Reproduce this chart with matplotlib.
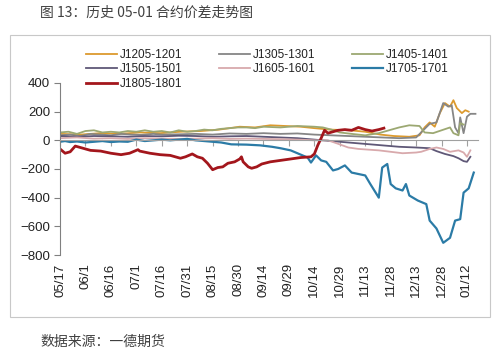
import matplotlib
matplotlib.use("Agg")
import matplotlib.pyplot as plt
from matplotlib.patches import Rectangle

plt.rcParams['font.family'] = ['Liberation Sans', 'Noto Sans CJK SC', 'DejaVu Sans']

# ---- data (x = days since 05/17, y = spread) ----
tick_days = [0, 15, 30, 45, 60, 75, 90, 105, 120, 135, 150, 165, 180, 195, 210, 225, 240]
tick_labels = ["05/17", "06/1", "06/16", "07/1", "07/16", "07/31", "08/15", "08/30",
               "09/14", "09/29", "10/14", "10/29", "11/13", "11/28", "12/13", "12/28", "01/12"]

j1205_x = [0, 12, 24, 35, 47, 59, 71, 83, 94, 106, 115, 124, 133, 142, 150, 159, 171, 180, 189,
           197, 206, 212, 215, 218, 221, 224, 227, 230, 232, 234, 237, 239, 241]
j1205_y = [45, 40, 50, 45, 55, 50, 60, 65, 75, 95, 90, 105, 100, 95, 85, 75, 70, 60, 40,
           30, 25, 35, 90, 125, 95, 190, 260, 235, 280, 225, 190, 210, 200]

j1305_x = [0, 6, 12, 18, 24, 30, 36, 42, 48, 55, 60, 70, 80, 90, 100, 110, 120, 130, 140, 150,
           160, 170, 180, 190, 200, 210, 218, 222, 226, 229, 231, 233, 235, 236, 238, 240, 242, 245]
j1305_y = [35, 40, 30, 45, 40, 35, 45, 40, 38, 45, 40, 42, 45, 40, 48, 45, 50, 45, 48, 40,
           35, 30, 25, 20, 15, 20, 115, 125, 260, 235, 245, 90, 50, 160, 50, 165, 185, 185]

j1405_x = [0, 5, 10, 15, 20, 25, 30, 35, 40, 45, 50, 55, 60, 65, 70, 75, 80, 85, 90, 95, 100,
           105, 110, 115, 120, 130, 140, 150, 155, 160, 165, 172, 180, 188, 194, 200, 206, 212,
           215, 220, 225, 230, 232, 235, 236, 238]
j1405_y = [55, 60, 45, 65, 70, 55, 60, 55, 65, 60, 70, 60, 65, 55, 70, 60, 65, 75, 70, 80, 85,
           90, 90, 85, 95, 90, 100, 95, 90, 75, 55, 45, 35, 50, 70, 90, 105, 100,
           55, 50, 70, 90, 50, 35, 120, 110]

j1505_x = [0, 10, 20, 30, 40, 50, 60, 70, 80, 90, 100, 110, 120, 130, 140, 150, 155, 160, 170,
           180, 185, 190, 200, 210, 218, 222, 227, 232, 235, 238, 240, 242]
j1505_y = [30, 25, 30, 28, 25, 30, 28, 32, 30, 25, 28, 30, 25, 20, 15, 5, 0, -5, -15,
           -25, -30, -35, -45, -50, -55, -75, -95, -110, -125, -145, -150, -115]

j1605_x = [0, 10, 20, 30, 40, 50, 60, 70, 80, 90, 100, 110, 120, 130, 140, 150, 158, 163, 170,
           176, 182, 188, 195, 202, 210, 213, 218, 222, 226, 230, 235, 238, 240, 242]
j1605_y = [15, 20, 12, 15, 10, 15, 12, 10, 12, 15, 10, 12, 10, 8, 5, 0, 0, -20, -50,
           -60, -65, -70, -80, -90, -85, -80, -60, -50, -60, -80, -70, -85, -115, -70]

j1705_x = [0, 3, 6, 10, 15, 20, 25, 30, 35, 40, 45, 50, 55, 60, 65, 70, 75, 80, 85, 90, 95,
           101, 110, 118, 125, 130, 136, 142, 146, 148, 151, 154, 157, 161, 164, 168, 172, 176,
           180, 183, 188, 190, 193, 195, 198, 202, 204, 206, 211, 216, 218, 222, 226, 230, 233,
           236, 238, 241, 244]
j1705_y = [-10, -5, -12, -8, -15, -10, -5, -12, -8, -10, 5, -5, 0, 5, 0, 5, 10, 0, -5, -10, -15,
           -28, -30, -35, -45, -55, -70, -100, -120, -155, -105, -140, -150, -210, -200, -175,
           -225, -235, -245, -305, -400, -190, -165, -305, -335, -350, -305, -385, -420, -445,
           -560, -615, -715, -680, -560, -550, -365, -335, -225]

j1805_x = [0, 3, 6, 9, 12, 15, 18, 24, 30, 36, 41, 46, 47, 53, 59, 65, 71, 74, 78, 81, 84, 87,
           90, 93, 96, 99, 103, 106, 107, 108, 111, 113, 116, 119, 124, 130, 136, 142, 148, 150,
           152, 154, 156, 158, 161, 164, 168, 172, 176, 180, 184, 188, 191]
j1805_y = [-60, -90, -80, -40, -50, -60, -70, -75, -90, -100, -90, -65, -75, -90, -100, -105,
           -125, -115, -95, -115, -125, -160, -205, -190, -185, -160, -150, -130, -115, -150,
           -185, -195, -185, -165, -150, -140, -130, -120, -115, -95, -35, 15, 70, 50, 60, 70,
           75, 70, 90, 75, 65, 75, 85]

series = [
    ("J1205-1201", j1205_x, j1205_y, "#DC9A2E", 1.3),
    ("J1305-1301", j1305_x, j1305_y, "#868686", 1.3),
    ("J1405-1401", j1405_x, j1405_y, "#9CA872", 1.3),
    ("J1505-1501", j1505_x, j1505_y, "#5F5877", 1.3),
    ("J1605-1601", j1605_x, j1605_y, "#D8A9AC", 1.3),
    ("J1705-1701", j1705_x, j1705_y, "#2B7BA6", 1.6),
    ("J1805-1801", j1805_x, j1805_y, "#A3161C", 2.0),
]

fig = plt.figure(figsize=(5, 3.54), dpi=100)
ax = fig.add_axes([60 / 500, 1 - 255 / 354, 418 / 500, 172 / 354])

handles = {}
for name, xs, ys, col, lw in series:
    h, = ax.plot(xs, ys, color=col, lw=lw, solid_joinstyle='round')
    handles[name] = h

ax.set_xlim(0, 246.5)
ax.set_ylim(-800, 400)
ax.set_yticks(range(-800, 401, 200))
ax.tick_params(axis='y', direction='out', length=4, color='#808080', labelsize=9.5,
               labelcolor='#222222', pad=3)
for s in ['top', 'right']:
    ax.spines[s].set_visible(False)
ax.spines['left'].set_color('#808080')
ax.spines['left'].set_linewidth(0.8)
ax.spines['bottom'].set_position(('data', 0))
ax.spines['bottom'].set_color('#A0A0A0')
ax.spines['bottom'].set_linewidth(0.8)
ax.set_xticks(tick_days)
ax.tick_params(axis='x', direction='out', length=4, color='#A0A0A0', labelbottom=False)

sec = ax.secondary_xaxis(0)
sec.set_xticks(tick_days)
sec.set_xticklabels(tick_labels, rotation=90)
sec.tick_params(length=0, labelsize=9.5, labelcolor='#222222', pad=6)
sec.spines['bottom'].set_visible(False)

order = ["J1205-1201", "J1505-1501", "J1805-1801", "J1305-1301", "J1605-1601",
         "J1405-1401", "J1705-1701"]
leg = fig.legend([handles[n] for n in order], order, ncol=3, loc='upper left',
                 bbox_to_anchor=(80 / 500, 1 - 43 / 354), frameon=False, fontsize=8.5,
                 borderpad=0, handlelength=2.6, handletextpad=0.3, columnspacing=3.05,
                 labelspacing=0.22)
for t in leg.get_texts():
    t.set_color('#222222')

fig.add_artist(Rectangle((10 / 500, 1 - 317 / 354), 480 / 500, 282 / 354,
                         transform=fig.transFigure, fill=False, ec='#C8C8C8', lw=0.8))

fig.text(40 / 500, 1 - 13 / 354, "图 13：历史 05-01 合约价差走势图", fontsize=10,
         family=['Noto Sans CJK SC', 'DejaVu Sans'], color='#404040', va='center', ha='left')
fig.text(40 / 500, 1 - 342 / 354, "数据来源：一德期货", fontsize=10,
         family=['Noto Sans CJK SC', 'DejaVu Sans'], color='#404040', va='center', ha='left')

fig.savefig("out.png", dpi=100)
